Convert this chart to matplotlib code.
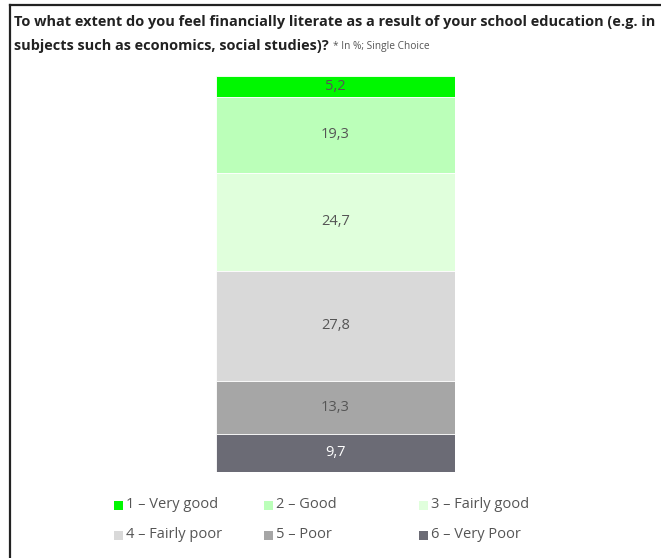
import matplotlib
matplotlib.use("Agg")
import matplotlib.pyplot as plt
from matplotlib.patches import Rectangle
from matplotlib.lines import Line2D

categories = ["1 – Very good", "2 – Good", "3 – Fairly good",
              "4 – Fairly poor", "5 – Poor", "6 – Very Poor"]
shares = [5.2, 19.3, 24.7, 27.8, 13.3, 9.7]
labels = ["5,2", "19,3", "24,7", "27,8", "13,3", "9,7"]
colors = ["#00f700", "#bbffb9", "#e0ffdc", "#d9d9d9", "#a6a6a6", "#6b6b75"]
label_colors = ["#555555"] * 5 + ["#ffffff"]

W, H = 661, 558
fig = plt.figure(figsize=(W / 100, H / 100), dpi=100)
plt.rcParams["font.family"] = ["Open Sans", "DejaVu Sans"]


def fx(px):
    return px / W


def fy(py):
    return 1 - py / H


# frame: top rule and left rule
fig.add_artist(Line2D([fx(10), 1], [fy(5), fy(5)], color="#222222", lw=1.6))
fig.add_artist(Line2D([fx(10), fx(10)], [fy(5), 0], color="#222222", lw=1.6))

fig.text(fx(14), fy(22), "To what extent do you feel financially literate as a result of your school education (e.g. in",
         fontsize=10.45, weight="bold", color="#222222", va="center", ha="left")
t2 = fig.text(fx(14), fy(46), "subjects such as economics, social studies)?",
              fontsize=10.45, weight="bold", color="#222222", va="center", ha="left")
fig.canvas.draw()
bb = t2.get_window_extent()
fig.text(bb.x1 / W + fx(4), fy(46), "* In %; Single Choice",
         fontsize=7.3, color="#555555", va="center", ha="left")

# stacked bar, first category on top
ax = fig.add_axes([fx(216), fy(472), fx(455) - fx(216), fy(76) - fy(472)])
bottom = 100.0
for val, col, lab, lc in zip(shares, colors, labels, label_colors):
    bottom -= val
    ax.bar(0, val, bottom=bottom, width=1.0, color=col, edgecolor="white", linewidth=0.6)
    ax.text(0, bottom + val / 2, lab, ha="center", va="center", fontsize=10.5, color=lc)
ax.set_xlim(-0.5, 0.5)
ax.set_ylim(0, 100)
ax.axis("off")

# legend, row-major in three columns
col_x = [114, 264, 419]
row_y = [505, 535]
for i, (cat, col) in enumerate(zip(categories, colors)):
    x = col_x[i % 3]
    y = row_y[i // 3]
    fig.add_artist(Rectangle((fx(x), fy(y + 4.5)), fx(9), 9 / H, facecolor=col,
                             edgecolor="none", transform=fig.transFigure))
    fig.text(fx(x + 12), fy(y), cat, fontsize=10.5, color="#555555", va="center", ha="left")

fig.savefig("out.png", dpi=100)
